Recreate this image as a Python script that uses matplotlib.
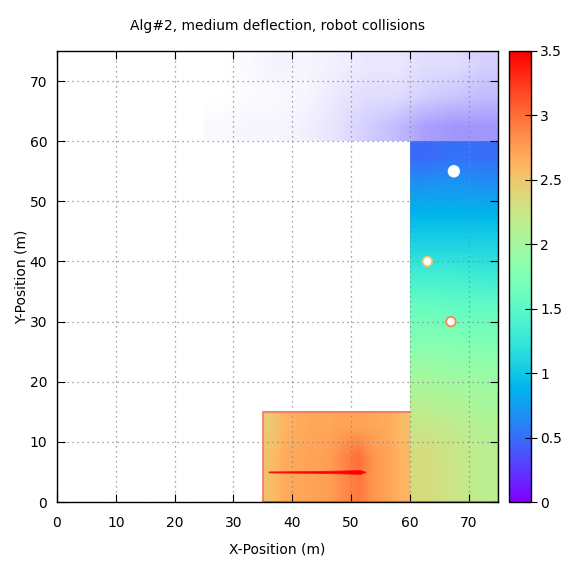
import numpy as np
import matplotlib
matplotlib.use("Agg")
import matplotlib.pyplot as plt
from matplotlib.patches import Circle

# colour scale (gnuplot rainbow palette == matplotlib 'rainbow')
vmin, vmax = 0.0, 3.5
cmap = plt.get_cmap("rainbow")

# corridor x 60..75, y 0..60, 5 m rows (bottom first), 3 columns of 5 m
corridor_vals = [
    [2.35, 2.25, 2.15],
    [2.35, 2.25, 2.15],
    [2.25, 2.20, 2.10],
    [2.10, 2.05, 2.00],
    [1.95, 1.90, 1.90],
    [1.75, 1.75, 1.70],
    [1.60, 1.55, 1.55],
    [1.35, 1.35, 1.30],
    [1.10, 1.10, 1.10],
    [0.90, 0.90, 0.90],
    [0.70, 0.72, 0.68],
    [0.48, 0.52, 0.50],
]

# start box x 35..60, y 0..15, 2.5 m columns, 5 m rows (bottom first)
box_vals = [
    [2.55, 2.68, 2.70, 2.72, 2.75, 2.85, 2.95, 2.80, 2.72, 2.62],
    [2.55, 2.68, 2.70, 2.72, 2.75, 2.88, 3.00, 2.80, 2.72, 2.62],
    [2.48, 2.62, 2.68, 2.70, 2.70, 2.72, 2.72, 2.70, 2.68, 2.58],
]

# sparse area above the corridor, x 25..75, y 60..75: hit coverage per 5 m cell
top_cover = [
    [0.03, 0.05, 0.05, 0.08, 0.15, 0.25, 0.35, 0.50, 0.55, 0.55],
    [0.00, 0.02, 0.03, 0.05, 0.12, 0.18, 0.18, 0.25, 0.30, 0.35],
    [0.00, 0.03, 0.07, 0.05, 0.08, 0.12, 0.12, 0.18, 0.18, 0.25],
]
top_value = 0.3

# red streak along y = 5
streak_x = [36, 44, 49, 51.5, 52.5]
streak_hw = [0.08, 0.15, 0.25, 0.35, 0.0]
streak_y = 5

# obstacles
obst_x = [67.5, 63, 67]
obst_y = [55, 40, 30]
obst_r = [0.9, 0.8, 0.8]
obst_ring = [None, 2.5, 2.9]

# walls
wall_x = [35, 35, 60]
wall_y = [0, 15, 15]
floor_x = [35, 75]
floor_y = [0, 0]
side_x = [75, 75]
side_y = [0, 18]

fig = plt.figure(figsize=(5.82, 5.73), dpi=100)
ax = fig.add_axes([0.0979, 0.1239, 0.7577, 0.7871])
cax = fig.add_axes([0.8746, 0.1239, 0.0378, 0.7871])

im = ax.imshow(np.array(corridor_vals), cmap=cmap, vmin=vmin, vmax=vmax,
               origin="lower", extent=[60, 75, 0, 60], interpolation="bilinear",
               aspect="auto", zorder=1)
ax.imshow(np.array(box_vals), cmap=cmap, vmin=vmin, vmax=vmax,
          origin="lower", extent=[35, 60, 0, 15], interpolation="bilinear",
          aspect="auto", zorder=1)

cover = np.array(top_cover)
rgba = np.zeros(cover.shape + (4,))
rgba[..., :] = cmap(top_value / vmax)
rgba[..., 3] = cover
ax.imshow(rgba, origin="lower", extent=[25, 75, 60, 75], interpolation="bilinear",
          aspect="auto", zorder=1)

sx = np.array(streak_x)
shw = np.array(streak_hw)
ax.fill_between(sx, streak_y - shw, streak_y + shw, color=cmap(1.0), lw=0.6,
                edgecolor=cmap(0.97), zorder=3)

wall_col = (0.95, 0.45, 0.40, 0.8)
ax.plot(wall_x, wall_y, color=wall_col, lw=1.5, zorder=3)
ax.plot(floor_x, floor_y, color=(0.95, 0.35, 0.25, 0.8), lw=1.5, zorder=3)
ax.plot(side_x, side_y, color=(0.95, 0.55, 0.45, 0.6), lw=1.2, zorder=3)

for x, y, r, ring in zip(obst_x, obst_y, obst_r, obst_ring):
    ec = "white" if ring is None else cmap(ring / vmax)
    ax.add_patch(Circle((x, y), r, facecolor="white", edgecolor=ec, lw=1.2, zorder=4))

ax.set_xlim(0, 75)
ax.set_ylim(0, 75)
ax.set_xticks(range(0, 71, 10))
ax.set_yticks(range(0, 71, 10))
ax.grid(True, color="#888888", linestyle=(0, (1, 3)), lw=0.9)
for gl in ax.get_xgridlines() + ax.get_ygridlines():
    gl.set_zorder(5)
ax.tick_params(direction="in", length=6, top=True, right=True, labelsize=10)
ax.tick_params(axis="x", pad=10)
ax.tick_params(axis="y", pad=7)
for s in ax.spines.values():
    s.set_linewidth(1.0)
    s.set_zorder(6)
ax.set_xlabel("X-Position (m)", fontsize=10, labelpad=9)
ax.set_ylabel("Y-Position (m)", fontsize=10, labelpad=1)
ax.set_title("Alg#2, medium deflection, robot collisions", fontsize=10, pad=15)

cb = fig.colorbar(im, cax=cax)
cb.set_ticks(np.arange(0, 3.51, 0.5))
cb.set_ticklabels(["0", "0.5", "1", "1.5", "2", "2.5", "3", "3.5"])
cax.tick_params(direction="inout", length=9, labelsize=10, pad=2)
cb.outline.set_linewidth(1.0)

fig.savefig("out.png", dpi=100)
